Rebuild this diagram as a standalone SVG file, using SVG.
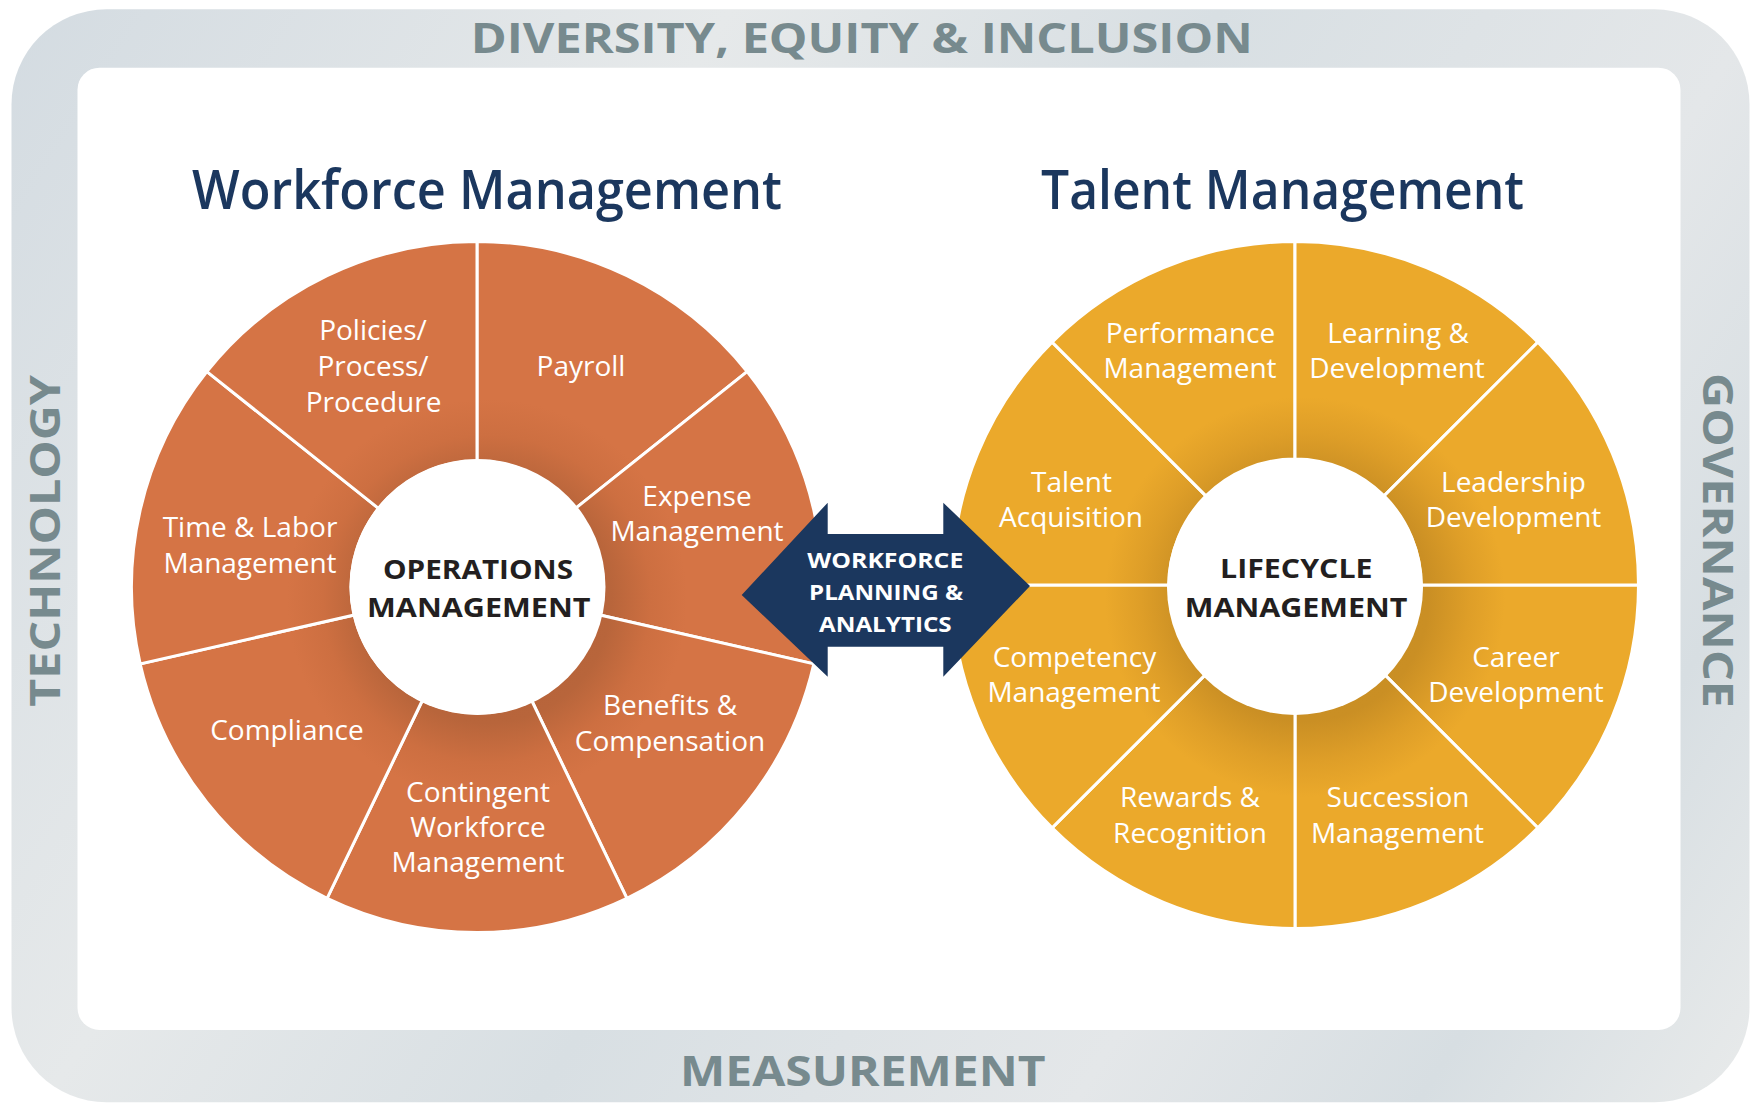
<svg xmlns="http://www.w3.org/2000/svg" width="1761" height="1103" viewBox="0 0 1761 1103">
  <defs>
    <linearGradient id="frameGrad" gradientUnits="userSpaceOnUse" x1="0" y1="0" x2="1761" y2="1103">
      <stop offset="0" stop-color="#D3DBE1"/>
      <stop offset="0.3" stop-color="#E6E9EA"/>
      <stop offset="0.5" stop-color="#D8DFE3"/>
      <stop offset="0.72" stop-color="#E4E7E9"/>
      <stop offset="0.86" stop-color="#D7DEE2"/>
      <stop offset="1" stop-color="#E9EBEB"/>
    </linearGradient>
    <radialGradient id="gL" gradientUnits="userSpaceOnUse" cx="487" cy="599" r="200">
      <stop offset="0" stop-color="#B15F37"/>
      <stop offset="0.62" stop-color="#B8653B"/>
      <stop offset="0.82" stop-color="#CD6F41"/>
      <stop offset="1" stop-color="#D57445"/>
    </radialGradient>
    <radialGradient id="gR" gradientUnits="userSpaceOnUse" cx="1305" cy="597" r="200">
      <stop offset="0" stop-color="#C68C22"/>
      <stop offset="0.62" stop-color="#CA8F24"/>
      <stop offset="0.82" stop-color="#DE9E28"/>
      <stop offset="1" stop-color="#EBA92B"/>
    </radialGradient>
    <style>
      .frame-label { font-family: "Open Sans", "Liberation Sans", sans-serif; font-weight: 700; font-size: 41px; fill: #778A8E; }
      .title { font-family: "Open Sans", "Liberation Sans", sans-serif; font-weight: 600; font-size: 54px; fill: #1B375E; }
      .seg-l { fill: url(#gL); stroke: #FFFFFF; stroke-width: 3; }
      .seg-r { fill: url(#gR); stroke: #FFFFFF; stroke-width: 3; }
      .lbl { font-family: "Open Sans", "Liberation Sans", sans-serif; font-size: 28px; fill: #FFFFFF; text-anchor: middle; }
      .hub { fill: #FFFFFF; }
      .hub-lbl { font-family: "Open Sans", "Liberation Sans", sans-serif; font-weight: 700; font-size: 27px; fill: #231F20; }
      .arrow { fill: #1B375E; }
      .arrow-lbl { font-family: "Open Sans", "Liberation Sans", sans-serif; font-weight: 700; font-size: 22px; fill: #FFFFFF; }
    </style>
  </defs>

  <g id="frame">
    <rect x="11.5" y="9.3" width="1738" height="1093" rx="95" ry="95" fill="url(#frameGrad)"/>
    <rect x="77.5" y="67.7" width="1603" height="962.3" rx="22" ry="22" fill="#FFFFFF"/>
  </g>

  <g id="frame-labels">
    <text id="dei" class="frame-label" x="470.7" y="53.3" textLength="782" lengthAdjust="spacingAndGlyphs">DIVERSITY, EQUITY &amp; INCLUSION</text>
    <text id="measurement" class="frame-label" x="680" y="1085.7" textLength="365.6" lengthAdjust="spacingAndGlyphs">MEASUREMENT</text>
    <text id="technology" class="frame-label" transform="translate(60,706.7) rotate(-90)" x="0" y="0" textLength="331.7" lengthAdjust="spacingAndGlyphs">TECHNOLOGY</text>
    <text id="governance" class="frame-label" transform="translate(1703.3,373) rotate(90)" x="0" y="0" textLength="335" lengthAdjust="spacingAndGlyphs">GOVERNANCE</text>
  </g>

  <g id="titles">
    <text id="title-workforce" class="title" x="192" y="209" textLength="590" lengthAdjust="spacingAndGlyphs">Workforce Management</text>
    <text id="title-talent" class="title" x="1041" y="209" textLength="483" lengthAdjust="spacingAndGlyphs">Talent Management</text>
  </g>

  <g id="workforce-wheel">
    <g id="seg-payroll">
      <path class="seg-l" d="M477,461 L477,241.5 A345.5,345.5 0 0 1 747.12,371.58 L575.51,508.44 A126,126 0 0 0 477,461 Z"/>
      <text class="lbl" x="581" y="376">Payroll</text>
    </g>
    <g id="seg-expense">
      <path class="seg-l" d="M575.51,508.44 L747.12,371.58 A345.5,345.5 0 0 1 813.84,663.88 L599.84,615.04 A126,126 0 0 0 575.51,508.44 Z"/>
      <text class="lbl" x="697" y="506">Expense</text>
      <text class="lbl" x="697" y="541">Management</text>
    </g>
    <g id="seg-benefits">
      <path class="seg-l" d="M599.84,615.04 L813.84,663.88 A345.5,345.5 0 0 1 626.91,898.29 L531.67,700.52 A126,126 0 0 0 599.84,615.04 Z"/>
      <text class="lbl" x="670" y="715">Benefits &amp;</text>
      <text class="lbl" x="670" y="750.7">Compensation</text>
    </g>
    <g id="seg-contingent">
      <path class="seg-l" d="M531.67,700.52 L626.91,898.29 A345.5,345.5 0 0 1 327.09,898.29 L422.33,700.52 A126,126 0 0 0 531.67,700.52 Z"/>
      <text class="lbl" x="478" y="801.7">Contingent</text>
      <text class="lbl" x="478" y="836.7">Workforce</text>
      <text class="lbl" x="478" y="871.7">Management</text>
    </g>
    <g id="seg-compliance">
      <path class="seg-l" d="M422.33,700.52 L327.09,898.29 A345.5,345.5 0 0 1 140.16,663.88 L354.16,615.04 A126,126 0 0 0 422.33,700.52 Z"/>
      <text class="lbl" x="287" y="740">Compliance</text>
    </g>
    <g id="seg-time-labor">
      <path class="seg-l" d="M354.16,615.04 L140.16,663.88 A345.5,345.5 0 0 1 206.88,371.58 L378.49,508.44 A126,126 0 0 0 354.16,615.04 Z"/>
      <text class="lbl" x="250" y="537">Time &amp; Labor</text>
      <text class="lbl" x="250" y="572.7">Management</text>
    </g>
    <g id="seg-policies">
      <path class="seg-l" d="M378.49,508.44 L206.88,371.58 A345.5,345.5 0 0 1 477,241.5 L477,461 A126,126 0 0 0 378.49,508.44 Z"/>
      <text class="lbl" x="373" y="340">Policies/</text>
      <text class="lbl" x="373" y="375.7">Process/</text>
      <text class="lbl" x="373.5" y="411.7">Procedure</text>
    </g>
    <g id="hub-operations">
      <circle class="hub" cx="477.5" cy="587" r="128"/>
      <text class="hub-lbl" x="383" y="579" textLength="190" lengthAdjust="spacingAndGlyphs">OPERATIONS</text>
      <text class="hub-lbl" x="367" y="616.7" textLength="223.5" lengthAdjust="spacingAndGlyphs">MANAGEMENT</text>
    </g>
  </g>

  <g id="talent-wheel">
    <g id="seg-career">
      <path class="seg-r" d="M1421,585 L1638.5,585 A343.5,343.5 0 0 1 1537.89,827.89 L1384.1,674.1 A126,126 0 0 0 1421,585 Z"/>
      <text class="lbl" x="1516" y="666.7">Career</text>
      <text class="lbl" x="1516" y="701.7">Development</text>
    </g>
    <g id="seg-succession">
      <path class="seg-r" d="M1384.1,674.1 L1537.89,827.89 A343.5,343.5 0 0 1 1295,928.5 L1295,711 A126,126 0 0 0 1384.1,674.1 Z"/>
      <text class="lbl" x="1398" y="806.7">Succession</text>
      <text class="lbl" x="1397.5" y="842.7">Management</text>
    </g>
    <g id="seg-rewards">
      <path class="seg-r" d="M1295,711 L1295,928.5 A343.5,343.5 0 0 1 1052.11,827.89 L1205.9,674.1 A126,126 0 0 0 1295,711 Z"/>
      <text class="lbl" x="1190" y="806.7">Rewards &amp;</text>
      <text class="lbl" x="1190" y="842.7">Recognition</text>
    </g>
    <g id="seg-competency">
      <path class="seg-r" d="M1205.9,674.1 L1052.11,827.89 A343.5,343.5 0 0 1 951.5,585 L1169,585 A126,126 0 0 0 1205.9,674.1 Z"/>
      <text class="lbl" x="1074.5" y="666.7">Competency</text>
      <text class="lbl" x="1074" y="701.7">Management</text>
    </g>
    <g id="seg-talent-acquisition">
      <path class="seg-r" d="M1169,585 L951.5,585 A343.5,343.5 0 0 1 1052.11,342.11 L1205.9,495.9 A126,126 0 0 0 1169,585 Z"/>
      <text class="lbl" x="1071.5" y="491.7">Talent</text>
      <text class="lbl" x="1071" y="526.7">Acquisition</text>
    </g>
    <g id="seg-performance">
      <path class="seg-r" d="M1205.9,495.9 L1052.11,342.11 A343.5,343.5 0 0 1 1295,241.5 L1295,459 A126,126 0 0 0 1205.9,495.9 Z"/>
      <text class="lbl" x="1190.5" y="343">Performance</text>
      <text class="lbl" x="1190" y="378">Management</text>
    </g>
    <g id="seg-learning">
      <path class="seg-r" d="M1295,459 L1295,241.5 A343.5,343.5 0 0 1 1537.89,342.11 L1384.1,495.9 A126,126 0 0 0 1295,459 Z"/>
      <text class="lbl" x="1398" y="343">Learning &amp;</text>
      <text class="lbl" x="1397" y="378">Development</text>
    </g>
    <g id="seg-leadership">
      <path class="seg-r" d="M1384.1,495.9 L1537.89,342.11 A343.5,343.5 0 0 1 1638.5,585 L1421,585 A126,126 0 0 0 1384.1,495.9 Z"/>
      <text class="lbl" x="1513.5" y="491.7">Leadership</text>
      <text class="lbl" x="1513.5" y="526.7">Development</text>
    </g>
    <g id="hub-lifecycle">
      <circle class="hub" cx="1295" cy="587" r="128"/>
      <text class="hub-lbl" x="1220" y="578.3" textLength="152.5" lengthAdjust="spacingAndGlyphs">LIFECYCLE</text>
      <text class="hub-lbl" x="1184.7" y="616.7" textLength="222.7" lengthAdjust="spacingAndGlyphs">MANAGEMENT</text>
    </g>
  </g>

  <g id="connectors">
    <g id="workforce-planning-arrow">
      <polygon class="arrow" points="741.7,595 827.7,502.7 827.7,534 943.3,534 943.3,502.7 1030,586 943.3,676.7 943.3,646.7 827.7,646.7 827.7,676.7"/>
      <text class="arrow-lbl" x="807.3" y="568.3" textLength="156" lengthAdjust="spacingAndGlyphs">WORKFORCE</text>
      <text class="arrow-lbl" x="809" y="600" textLength="154" lengthAdjust="spacingAndGlyphs">PLANNING &amp;</text>
      <text class="arrow-lbl" x="819" y="631.7" textLength="132.7" lengthAdjust="spacingAndGlyphs">ANALYTICS</text>
    </g>
  </g>
</svg>
